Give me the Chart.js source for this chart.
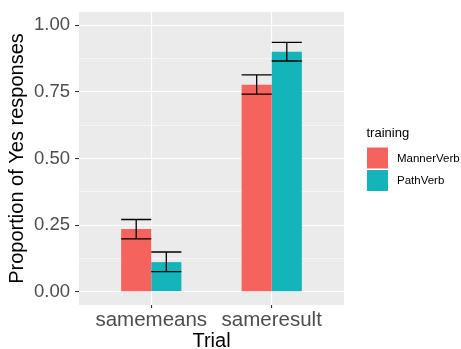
<!DOCTYPE html>
<html>
<head>
<meta charset="utf-8">
<script src="https://cdn.jsdelivr.net/npm/chart.js@4.4.1/dist/chart.umd.min.js"></script>
<style>
  html, body { margin: 0; padding: 0; background: #fff; }
  #box { width: 461px; height: 349px; }
</style>
</head>
<body>
<div id="box"><canvas id="grafico" width="461" height="349"></canvas></div>
<script>
const trials = ["samemeans", "sameresult"];
const trainings = ["MannerVerb", "PathVerb"];
const mediaManner = [0.235, 0.777];
const mediaPath = [0.111, 0.901];
const erroManner = [[0.198, 0.271], [0.742, 0.814]];
const erroPath = [[0.075, 0.149], [0.866, 0.936]];
const yTicks = [0, 0.125, 0.25, 0.375, 0.5, 0.625, 0.75, 0.875, 1];

const cores = ["#F5635E", "#14B5BA"];
const fonte = "'Liberation Sans', Arial, sans-serif";

// fundo cinza do painel (estilo ggplot)
const fundoPainel = {
    id: "fundoPainel",
    beforeDraw(chart) {
        const a = chart.chartArea;
        const ctx = chart.ctx;
        ctx.save();
        ctx.fillStyle = "#EBEBEB";
        ctx.fillRect(a.left, a.top, a.right - a.left, a.bottom - a.top);
        ctx.restore();
    }
};

// barras de erro desenhadas a partir das barras e da escala y
const barrasErro = {
    id: "barrasErro",
    afterDatasetsDraw(chart) {
        const ctx = chart.ctx;
        const y = chart.scales.y;
        const erros = [erroManner, erroPath];
        ctx.save();
        ctx.strokeStyle = "#000";
        ctx.lineWidth = 1.3;
        erros.forEach((lista, d) => {
            const meta = chart.getDatasetMeta(d);
            meta.data.forEach((bar, i) => {
                const meia = bar.width / 2;
                const y0 = y.getPixelForValue(lista[i][0]);
                const y1 = y.getPixelForValue(lista[i][1]);
                ctx.beginPath();
                ctx.moveTo(bar.x - meia, y1); ctx.lineTo(bar.x + meia, y1);
                ctx.moveTo(bar.x - meia, y0); ctx.lineTo(bar.x + meia, y0);
                ctx.moveTo(bar.x, y0); ctx.lineTo(bar.x, y1);
                ctx.stroke();
            });
        });
        ctx.restore();
    }
};

// legenda no estilo ggplot
const legenda = {
    id: "legenda",
    afterDraw(chart) {
        const ctx = chart.ctx;
        ctx.save();
        ctx.fillStyle = "#000";
        ctx.textAlign = "left";
        ctx.textBaseline = "alphabetic";
        ctx.font = "13px " + fonte;
        ctx.fillText("training", 366.5, 137);
        ctx.font = "11.5px " + fonte;
        ctx.textBaseline = "middle";
        trainings.forEach((t, i) => {
            const top = 146.5 + i * 22.5;
            ctx.fillStyle = "#fff";
            ctx.fillRect(366, top, 23, 23);
            ctx.fillStyle = cores[i];
            ctx.fillRect(367, top + 1, 21, 21);
            ctx.fillStyle = "#000";
            ctx.fillText(t, 397, top + 12);
        });
        ctx.restore();
    }
};

const ctx = document.getElementById("grafico").getContext("2d");

new Chart(ctx, {
    type: "bar",
    data: {
        datasets: [
            {
                label: trainings[0],
                data: mediaManner.map((v, i) => ({ x: i + 1, y: v })),
                backgroundColor: cores[0]
            },
            {
                label: trainings[1],
                data: mediaPath.map((v, i) => ({ x: i + 1, y: v })),
                backgroundColor: cores[1]
            }
        ]
    },
    options: {
        responsive: false,
        animation: false,
        categoryPercentage: 0.5,
        barPercentage: 1.0,
        layout: { padding: { top: 12, right: 117, left: 0, bottom: 0 } },
        plugins: {
            legend: { display: false },
            tooltip: { enabled: false }
        },
        scales: {
            x: {
                type: "linear",
                min: 0.4,
                max: 2.6,
                offset: false,
                afterBuildTicks: s => { s.ticks = trials.map((_, i) => ({ value: i + 1 })); },
                afterFit: s => { s.height = 44; s.paddingLeft = 0; s.paddingRight = 0; },
                border: { display: false },
                grid: { offset: false, color: "#fff", lineWidth: 1.1, tickLength: 3, tickColor: "#333", tickWidth: 1.1 },
                ticks: {
                    callback: v => trials[v - 1],
                    color: "#4D4D4D",
                    font: { family: fonte, size: 20.5 },
                    padding: 0,
                    maxRotation: 0,
                    autoSkip: false
                },
                title: {
                    display: true,
                    text: "Trial",
                    color: "#000",
                    font: { family: fonte, size: 20, lineHeight: 0.8 },
                    padding: 0
                }
            },
            y: {
                min: -0.05,
                max: 1.05,
                afterBuildTicks: s => { s.ticks = yTicks.map(v => ({ value: v })); },
                afterFit: s => { s.width = 79; s.paddingTop = 0; s.paddingBottom = 0; },
                border: { display: false },
                grid: {
                    color: "#fff",
                    lineWidth: c => (c.tick && c.tick.value % 0.25 === 0) ? 1.1 : 0.55,
                    tickLength: 4,
                    tickColor: c => (c.tick && c.tick.value % 0.25 === 0) ? "#333" : "rgba(0,0,0,0)",
                    tickWidth: 1.1
                },
                ticks: {
                    callback: v => (v % 0.25 === 0) ? v.toFixed(2) : "",
                    color: "#4D4D4D",
                    font: { family: fonte, size: 18.5 },
                    padding: 5,
                    autoSkip: false
                },
                title: {
                    display: true,
                    text: "Proportion of Yes responses",
                    color: "#000",
                    font: { family: fonte, size: 20 },
                    padding: { top: 5, bottom: 0 }
                }
            }
        }
    },
    plugins: [fundoPainel, barrasErro, legenda]
});
</script>
</body>
</html>
